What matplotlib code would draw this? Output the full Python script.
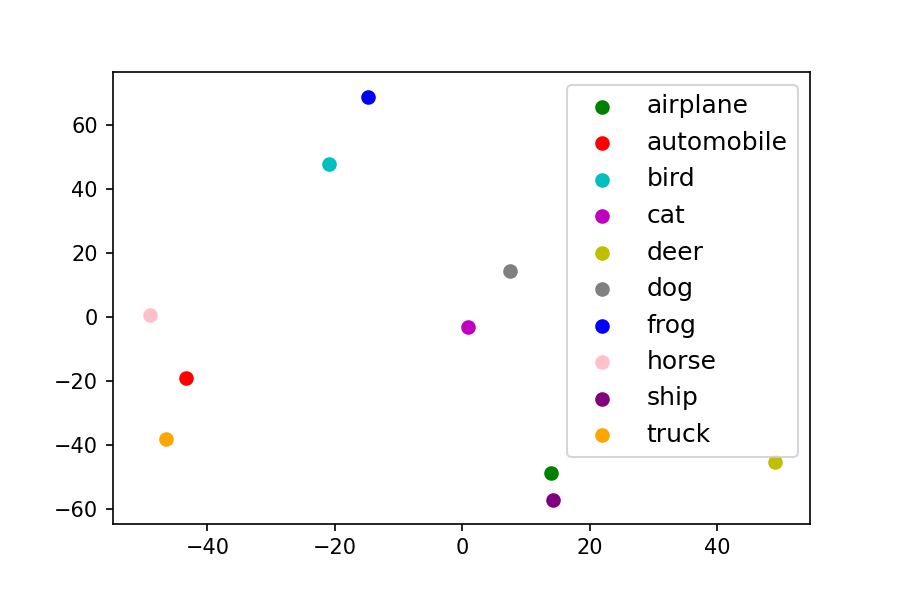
import matplotlib
matplotlib.use("Agg")
import matplotlib.pyplot as plt

# class names and their 2-D embedding positions
labels = ['airplane', 'automobile', 'bird', 'cat', 'deer',
          'dog', 'frog', 'horse', 'ship', 'truck']
xs = [13.9, -43.4, -20.9, 0.9, 49.1, 7.5, -14.8, -49.0, 14.3, -46.5]
ys = [-48.7, -19.2, 47.7, -3.3, -45.5, 14.5, 68.8, 0.6, -57.2, -38.2]
colors = ['g', 'r', 'c', 'm', 'y', 'gray', 'b', 'pink', 'purple', 'orange']

fig = plt.figure(figsize=(6, 4), dpi=150)
ax = fig.add_subplot(111)
fig.subplots_adjust(left=0.125, right=0.9, top=0.88, bottom=0.127)

for x, y, c, lab in zip(xs, ys, colors, labels):
	ax.scatter(x, y, c=c, label=lab)

ax.set_xlim(-54.9, 54.6)
ax.set_ylim(-64.7, 76.6)
ax.legend(loc='upper right', fontsize=12)
fig.savefig('out.png', dpi=150)
